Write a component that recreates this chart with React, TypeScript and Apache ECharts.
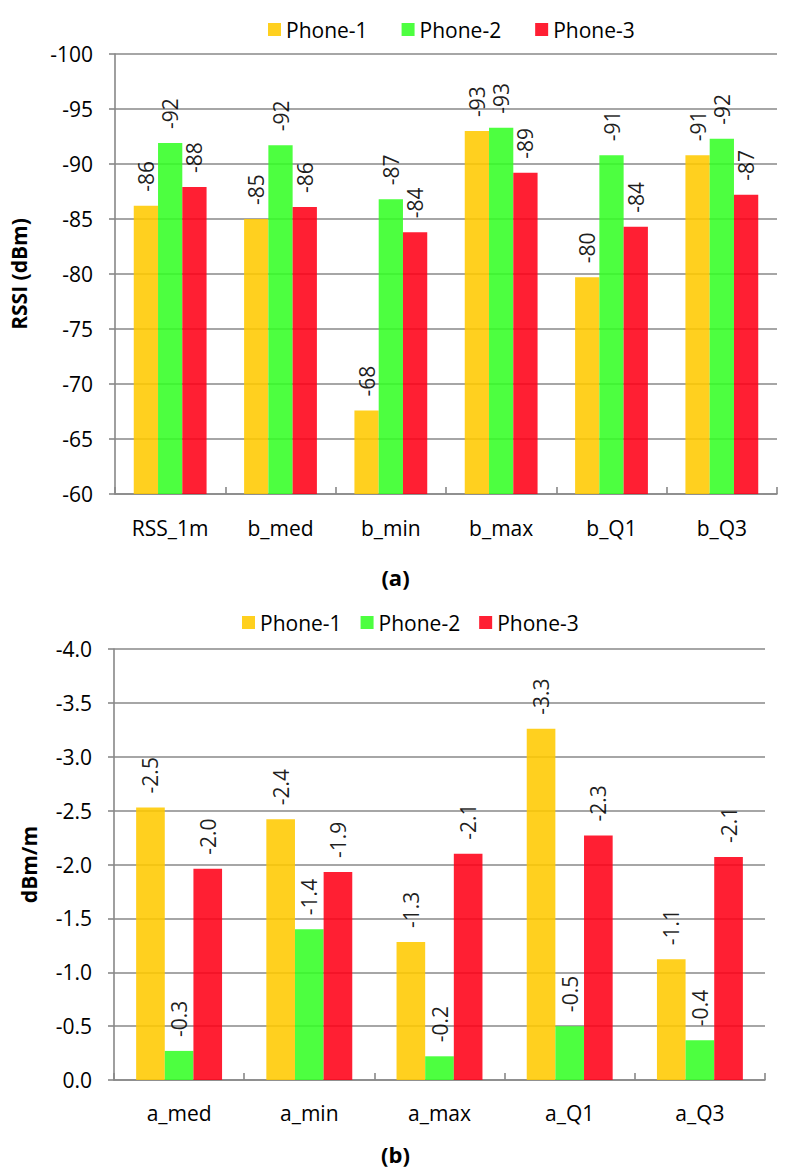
import React, { useEffect, useRef } from "react";
import * as echarts from "echarts";

const seriesNames = ["Phone-1", "Phone-2", "Phone-3"];
const barColors = ["#FFCA00", "#34FF26", "#FF0017"];

// Panel (a): RSSI in dBm
const catsA = ["RSS_1m", "b_med", "b_min", "b_max", "b_Q1", "b_Q3"];
const phone1A = [-86.2, -85.0, -67.6, -93.0, -79.7, -90.8];
const phone2A = [-91.9, -91.7, -86.8, -93.3, -90.8, -92.3];
const phone3A = [-87.9, -86.1, -83.8, -89.2, -84.3, -87.2];
const axisA = { min: -100, max: -60, interval: 5 };

// Panel (b): slope in dBm/m
const catsB = ["a_med", "a_min", "a_max", "a_Q1", "a_Q3"];
const phone1B = [-2.53, -2.42, -1.28, -3.26, -1.12];
const phone2B = [-0.27, -1.4, -0.22, -0.5, -0.37];
const phone3B = [-1.96, -1.93, -2.1, -2.27, -2.07];
const axisB = { min: -4, max: 0, interval: 0.5 };

const FONT = "Open Sans";
const GRAY = "#888888";

const roundHalfAway = (v: number) => Math.sign(v) * Math.round(Math.abs(v));

export default function App() {
  const ref = useRef<HTMLDivElement>(null);

  useEffect(() => {
    if (!ref.current) return;
    const chart = echarts.init(ref.current, null, { renderer: "svg" });

    const makeSeries = (
      data: number[][],
      gridIdx: number,
      fmt: (v: number) => string
    ) =>
      data.map((vals, i) => ({
        name: seriesNames[i],
        type: "bar",
        xAxisIndex: gridIdx,
        yAxisIndex: gridIdx,
        data: vals,
        clip: true,
        barGap: "0%",
        barCategoryGap: "34%",
        itemStyle: { color: barColors[i], opacity: 0.88 },
        label: {
          show: true,
          position: "outside",
          rotate: 90,
          align: "left",
          verticalAlign: "middle",
          distance: 14,
          color: "#000",
          fontFamily: FONT,
          fontSize: 21,
          formatter: (p: any) => fmt(p.value),
        },
      }));

    const yAxisCommon = {
      type: "value",
      inverse: true,
      axisLine: { show: true, lineStyle: { color: GRAY, width: 1.6 } },
      axisTick: { show: true, length: 6, lineStyle: { color: GRAY, width: 1.6 } },
      splitLine: { show: true, lineStyle: { color: GRAY, width: 1.6 } },
      nameLocation: "middle",
      nameRotate: 90,
      nameTextStyle: { fontFamily: FONT, fontSize: 21, fontWeight: "bold", color: "#000" },
    };

    const xAxisCommon = {
      type: "category",
      axisLine: { show: true, onZero: false, lineStyle: { color: GRAY, width: 1.6 } },
      axisTick: { show: true, inside: true, length: 7, alignWithLabel: false, lineStyle: { color: GRAY, width: 1.6 } },
      axisLabel: { color: "#000", fontFamily: FONT, fontSize: 21 },
    };

    const legendCommon = {
      data: seriesNames,
      icon: "rect",
      itemWidth: 13,
      itemHeight: 13,
      padding: 0,
      orient: "horizontal",
      textStyle: { fontFamily: FONT, fontSize: 21, color: "#000" },
    };

    chart.setOption({
      animation: false,
      textStyle: { fontFamily: FONT },
      title: [
        {
          text: "(a)",
          left: "center",
          top: 566,
          padding: 0,
          textStyle: { fontFamily: FONT, fontSize: 22, fontWeight: "bold", color: "#000" },
        },
        {
          text: "(b)",
          left: "center",
          top: 1143,
          padding: 0,
          textStyle: { fontFamily: FONT, fontSize: 22, fontWeight: "bold", color: "#000" },
        },
      ],
      legend: [
        { ...legendCommon, left: 268, top: 19, itemGap: 34 },
        { ...legendCommon, left: 242, top: 612, itemGap: 19 },
      ],
      grid: [
        { left: 113, top: 54, width: 664, height: 440 },
        { left: 114, top: 649, width: 651, height: 431 },
      ],
      xAxis: [
        { ...xAxisCommon, gridIndex: 0, data: catsA, axisLabel: { ...xAxisCommon.axisLabel, margin: 23 } },
        { ...xAxisCommon, gridIndex: 1, data: catsB, axisLabel: { ...xAxisCommon.axisLabel, margin: 22 } },
      ],
      yAxis: [
        {
          ...yAxisCommon,
          gridIndex: 0,
          min: axisA.min,
          max: axisA.max,
          interval: axisA.interval,
          name: "RSSI (dBm)",
          nameGap: 86,
          axisLabel: { color: "#000", fontFamily: FONT, fontSize: 21, margin: 22 },
        },
        {
          ...yAxisCommon,
          gridIndex: 1,
          min: axisB.min,
          max: axisB.max,
          interval: axisB.interval,
          name: "dBm/m",
          nameGap: 75,
          axisLabel: {
            color: "#000",
            fontFamily: FONT,
            fontSize: 21,
            margin: 22,
            formatter: (v: number) => v.toFixed(1),
          },
        },
      ],
      series: [
        ...makeSeries([phone1A, phone2A, phone3A], 0, (v) => String(roundHalfAway(v))),
        ...makeSeries([phone1B, phone2B, phone3B], 1, (v) => v.toFixed(1)),
      ],
    });

    return () => chart.dispose();
  }, []);

  return (
    <div
      ref={ref}
      style={{ position: "absolute", left: 0, top: 0, width: 791, height: 1175, background: "#fff" }}
    />
  );
}
